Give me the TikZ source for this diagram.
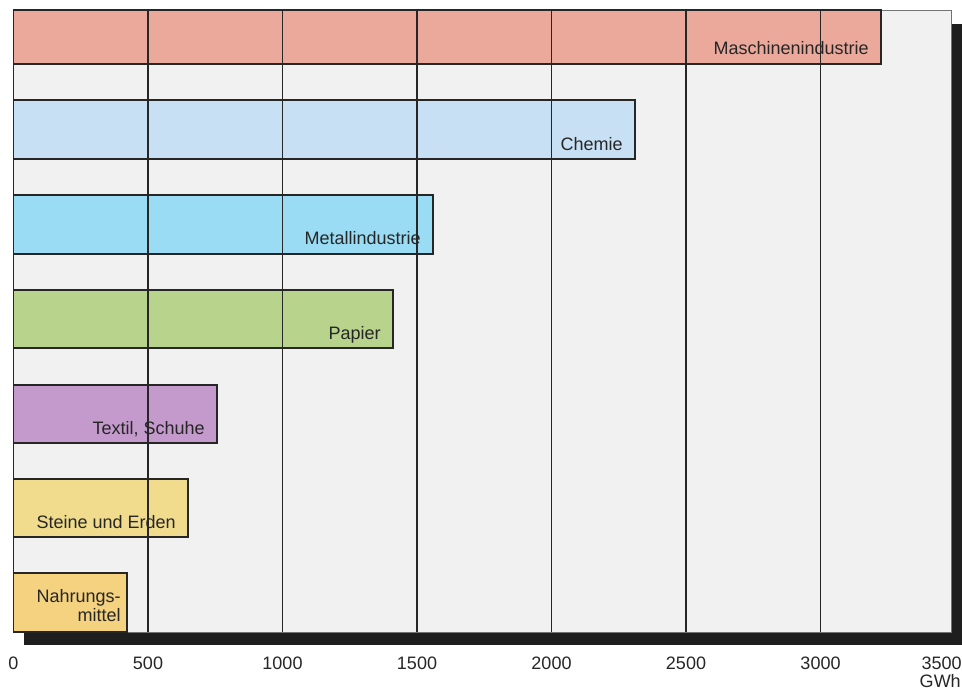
\documentclass[tikz,border=0pt]{standalone}
\usepackage{fontspec}
\setmainfont{Liberation Sans}
\definecolor{plotbg}{HTML}{F1F1F1}
\definecolor{shadow}{HTML}{1E1E1E}
\definecolor{maschinen}{HTML}{EBA99C}
\definecolor{chemie}{HTML}{C8E0F4}
\definecolor{metall}{HTML}{9ADCF4}
\definecolor{papier}{HTML}{B7D38C}
\definecolor{textil}{HTML}{C39ACB}
\definecolor{steine}{HTML}{F0DC8C}
\definecolor{nahrung}{HTML}{F4D27F}
\begin{document}
\begin{tikzpicture}[x=0.75pt, y=-0.75pt,
    bar/.style={draw=black!85, line width=1.3pt},
    grid/.style={draw=black!85, line width=1.1pt},
    lbl/.style={anchor=base east, inner sep=0pt, text=black!85, font=\fontsize{13.5}{14.5}\selectfont},
    tick/.style={anchor=base, inner sep=0pt, text=black!85, font=\fontsize{13.5}{16}\selectfont}]
    \useasboundingbox (0,0) rectangle (962,691);

    % plot area and shadow
    \fill [shadow] (24,632) rectangle (962,645);
    \fill [shadow] (951,24) rectangle (962,645);
    \draw [fill=plotbg, draw=black!55, line width=0.7pt] (13.5,10) rectangle (951,632);

    % bars
    \draw [bar, fill=maschinen] (13.5,10) rectangle (881,64);
    \draw [bar, fill=chemie] (13.5,100) rectangle (635,159);
    \draw [bar, fill=metall] (13.5,195) rectangle (433,254);
    \draw [bar, fill=papier] (13.5,290) rectangle (393,348);
    \draw [bar, fill=textil] (13.5,385) rectangle (217,443);
    \draw [bar, fill=steine] (13.5,479) rectangle (188,537);
    \draw [bar, fill=nahrung] (13.5,573) rectangle (127,632);

    % grid lines
    \foreach \k in {0,...,6}
        \draw [grid] (13.5+\k*134.5,10) -- (13.5+\k*134.5,632);

    % bar labels
    \node [lbl] (maschinen) at (869,55) {Maschinenindustrie};
    \node [lbl] (chemie) at (623,151) {Chemie};
    \node [lbl] (metall) at (421,245) {Metallindustrie};
    \node [lbl] (papier) at (381,339) {Papier};
    \node [lbl] (textil) at (205,434) {Textil, Schuhe};
    \node [lbl] (steine) at (176,528) {Steine und Erden};
    \node [lbl, anchor=south east, align=right] (nahrung) at (121,622) {Nahrungs-\\mittel};

    % axis values
    \foreach \v [count=\k from 0] in {0,500,1000,1500,2000,2500,3000}
        \node [tick] (tick\v) at (13.5+\k*134.5,669) {\v};
    \node [tick, anchor=base east] (tick3500) at (962,669) {3500};
    \node [tick, anchor=base east] (unit) at (961,687) {GWh};
\end{tikzpicture}
\end{document}
